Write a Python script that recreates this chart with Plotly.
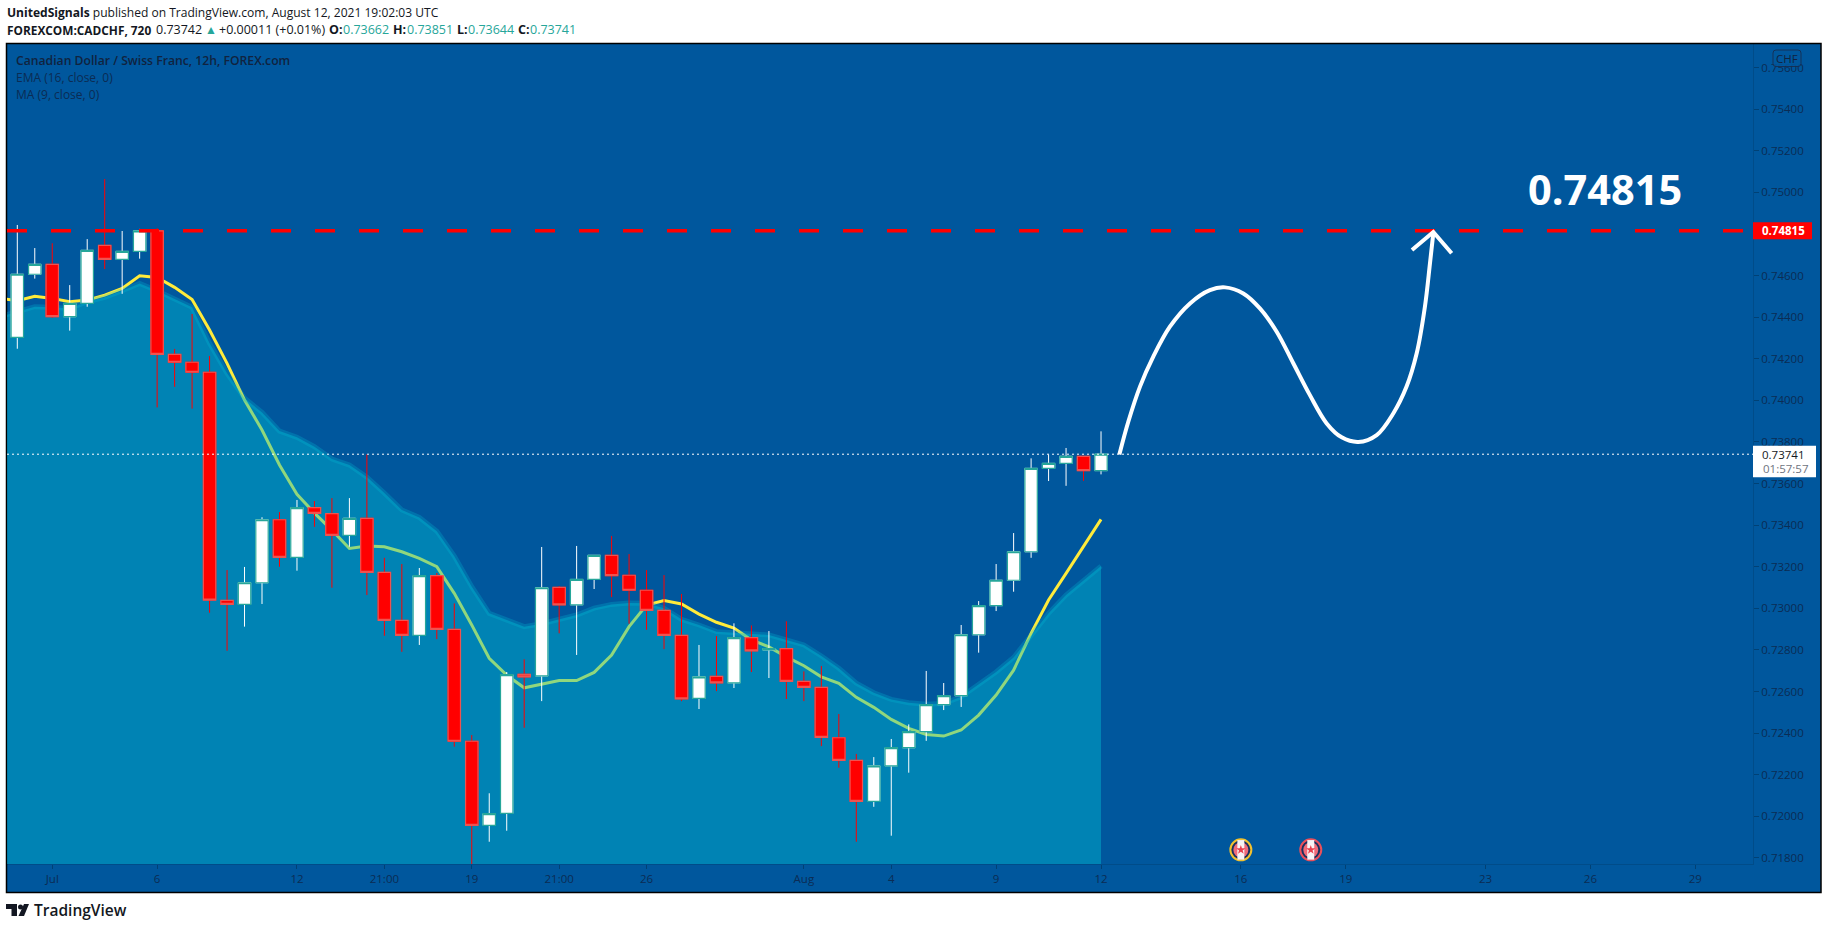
import plotly.graph_objects as go

# ---------- data ----------
bar_index = list(range(63))
opens = [.74303,.74606,.74654,.74402,.74466,.74745,.74678,.74716,.74815,.74221,.74183,.74135,.73038,.73019,.73123,.73426,.73245,.73484,.73455,.73351,.73433,
         .73173,.72942,.72870,.73157,.72899,.72361,.71957,.72014,.72683,.72675,.73101,.73017,.73139,.73255,.73159,.73087,.72990,.72870,.72567,.72673,
         .72642,.72859,.72800,.72806,.72649,.72620,.72378,.72269,.72072,.72243,.72330,.72407,.72537,.72580,.72873,.73013,.73135,.73272,.73673,.73697,.73731,.73662]
highs = [.74843,.74732,.74755,.74554,.74775,.75064,.74814,.74824,.74827,.74247,.74415,.74213,.73184,.73199,.73438,.73463,.73521,.73516,.73530,.73530,.73740,
         .73243,.73213,.73194,.73170,.73024,.72391,.72111,.72694,.72755,.73295,.73107,.73300,.73255,.73348,.73261,.73184,.73160,.73069,.72824,.72867,
         .72928,.72918,.72891,.72938,.72697,.72723,.72492,.72300,.72285,.72372,.72442,.72699,.72641,.72920,.73035,.73213,.73362,.73721,.73740,.73771,.73731,.73851]
lows = [.74248,.74585,.74397,.74335,.74450,.74631,.74512,.74681,.73966,.74065,.73960,.72979,.72796,.72912,.73021,.73200,.73181,.73392,.73099,.73296,.73064,
        .72868,.72791,.72824,.72852,.72335,.71771,.71878,.71931,.72426,.72554,.72880,.72776,.73093,.73054,.72926,.72897,.72804,.72554,.72516,.72602,
        .72617,.72694,.72665,.72564,.72554,.72338,.72234,.71878,.72046,.71907,.72210,.72363,.72511,.72526,.72787,.72987,.73080,.73243,.73612,.73589,.73613,.73644]
closes = [.74606,.74654,.74402,.74466,.74721,.74678,.74716,.74815,.74221,.74183,.74135,.73040,.73019,.73123,.73426,.73245,.73484,.73457,.73351,.73433,.73173,
          .72942,.72870,.73157,.72899,.72361,.71957,.72013,.72681,.72671,.73099,.73017,.73139,.73255,.73157,.73087,.72990,.72870,.72565,.72671,.72642,
          .72859,.72796,.72806,.72649,.72620,.72380,.72269,.72072,.72243,.72330,.72407,.72537,.72580,.72873,.73013,.73135,.73272,.73673,.73697,.73731,.73662,.73741]

line_index = list(range(-1, 63))
ema16 = [.74402,.74426,.74450,.74447,.74442,.74474,.74495,.74527,.74562,.74527,.74487,.74447,.74274,.74130,.74010,.73942,.73852,.73822,.73777,.73718,.73689,.73631,
         .73554,.73473,.73437,.73371,.73251,.73104,.72976,.72944,.72912,.72926,.72944,.72968,.73001,.73019,.73026,.73024,.73000,.72947,.72920,.72888,.72883,.72877,.72872,
         .72848,.72824,.72771,.72712,.72640,.72594,.72562,.72546,.72539,.72543,.72575,.72631,.72694,.72764,.72872,.72976,.73064,.73136,.73203]
ma9 = [.74490,.74479,.74500,.74490,.74474,.74482,.74506,.74538,.74599,.74591,.74543,.74485,.74338,.74178,.74001,.73857,.73689,.73548,.73458,.73376,.73288,.73300,.73296,
       .73272,.73240,.73200,.73072,.72920,.72760,.72679,.72618,.72636,.72653,.72653,.72692,.72775,.72912,.73016,.73037,.73021,.72972,.72933,.72905,.72848,.72815,.72767,
       .72724,.72671,.72640,.72572,.72524,.72466,.72423,.72394,.72386,.72415,.72487,.72583,.72703,.72880,.73040,.73168,.73296,.73428]

arrow_x = [63.05,63.56,64.23,64.99,65.94,67.09,68.23,69.09,70.14,71.09,72.05,73.00,73.95,74.91,75.77,76.72,77.77,78.72,79.48,80.06,80.53,80.82,81.01]
arrow_y = [.73740,.73897,.74066,.74210,.74354,.74466,.74530,.74543,.74514,.74442,.74330,.74178,.74025,.73889,.73822,.73800,.73833,.73937,.74066,.74226,.74450,.74659,.74803]
head_x = [79.79,81.01,82.06]
head_y = [.74723,.74809,.74707]

target_level = .74815
last_price = .73741

event_x = [70, 74]
event_y = [.71839, .71839]
event_rings = ["#f2c12e", "#e8505b"]

x_tick_vals = [2,8,16,21,26,31,36,45,50,56,62,70,76,84,90,96]
x_tick_text = ["Jul","6","12","21:00","19","21:00","26","Aug","4","9","12","16","19","23","26","29"]
y_tick_vals = [.718,.720,.722,.724,.726,.728,.730,.732,.734,.736,.738,.740,.742,.744,.746,.748,.750,.752,.754,.756]

# ---------- layout constants ----------
W, H = 1828, 929
L, R, T, B = 7, 1753, 44, 864
X_RANGE = [-0.589, 99.3]
Y_RANGE = [.71771, .75713]
BG = "#00579d"
AXIS_TXT = "#0b2c54"
FONT = "Open Sans"
def px(x): return (x - L) / (R - L)
def py(y): return (B - y) / (B - T)

fig = go.Figure()

# under the candles
fig.add_trace(go.Scatter(x=line_index, y=ma9, mode="lines", line=dict(color="#ffeb3b", width=3), name="MA 9", hoverinfo="skip"))
fig.add_trace(go.Scatter(x=line_index, y=ema16, mode="lines", fill="tozeroy", fillcolor="rgba(0,188,212,0.435)",
                         line=dict(color="rgba(0,188,212,0.28)", width=5), name="EMA 16", hoverinfo="skip"))

# wicks
fig.add_trace(go.Candlestick(x=bar_index, open=opens, high=highs, low=lows, close=closes, xaxis="x2", yaxis="y2",
    increasing=dict(line=dict(color="#ffffff", width=1), fillcolor="#ffffff"),
    decreasing=dict(line=dict(color="#ff0000", width=1), fillcolor="#ff0000"), whiskerwidth=0, hoverinfo="skip", name="wicks"))
# bodies
body_hi = [max(o, c) for o, c in zip(opens, closes)]
body_lo = [min(o, c) for o, c in zip(opens, closes)]
fig.add_trace(go.Candlestick(x=bar_index, open=opens, high=body_hi, low=body_lo, close=closes, xaxis="x2", yaxis="y2",
    increasing=dict(line=dict(color="#26a69a", width=1.2), fillcolor="#ffffff"),
    decreasing=dict(line=dict(color="#ef5350", width=1.2), fillcolor="#ff0000"), whiskerwidth=0, hoverinfo="skip", name="bodies"))

# level and price lines
fig.add_trace(go.Scatter(x=X_RANGE, y=[last_price, last_price], mode="lines", xaxis="x2", yaxis="y2",
                         line=dict(color="#ffffff", width=1, dash="2px,3px"), hoverinfo="skip"))
fig.add_trace(go.Scatter(x=X_RANGE, y=[target_level, target_level], mode="lines", xaxis="x2", yaxis="y2",
                         line=dict(color="#ff0000", width=3.5, dash="20px,24px"), hoverinfo="skip"))
# projected path
fig.add_trace(go.Scatter(x=arrow_x, y=arrow_y, mode="lines", xaxis="x2", yaxis="y2",
                         line=dict(color="#ffffff", width=4, shape="spline", smoothing=1.0), hoverinfo="skip"))
fig.add_trace(go.Scatter(x=head_x, y=head_y, mode="lines", xaxis="x2", yaxis="y2",
                         line=dict(color="#ffffff", width=4), hoverinfo="skip"))
# events
fig.add_trace(go.Scatter(x=event_x, y=event_y, mode="markers", xaxis="x2", yaxis="y2", hoverinfo="skip",
                         marker=dict(symbol="circle", size=21, color="#17305f", line=dict(color=event_rings, width=2))))
fig.add_trace(go.Scatter(x=event_x, y=event_y, mode="markers", xaxis="x2", yaxis="y2", hoverinfo="skip",
                         marker=dict(symbol="circle", size=15, color="#ef6b78", line=dict(width=0))))
fig.add_trace(go.Scatter(x=event_x, y=event_y, mode="markers", xaxis="x2", yaxis="y2", hoverinfo="skip",
                         marker=dict(symbol="line-ns", size=14, line=dict(color="#f7f3f5", width=7))))
fig.add_trace(go.Scatter(x=event_x, y=event_y, mode="markers", xaxis="x2", yaxis="y2", hoverinfo="skip",
                         marker=dict(symbol="star", size=7, color="#e8404f", line=dict(width=0))))

shapes = [
    dict(type="rect", xref="paper", yref="paper", layer="below", x0=px(6.5), x1=px(1821), y0=py(43.5), y1=py(892.5),
         fillcolor=BG, line=dict(color="#000000", width=1.5)),
    dict(type="rect", xref="paper", yref="y", layer="above", x0=1, x1=px(1812), ysizemode="pixel", yanchor=target_level,
         y0=-8.5, y1=8.5, fillcolor="#ff0000", line=dict(width=0)),
    dict(type="rect", xref="paper", yref="y", layer="above", x0=1, x1=px(1816), ysizemode="pixel", yanchor=last_price,
         y0=-23, y1=8.5, fillcolor="#ffffff", line=dict(width=0)),
    # CHF badge
    dict(type="path", xref="paper", yref="paper", layer="above",
         path=(f"M {px(1776)} {py(50)} L {px(1798)} {py(50)} Q {px(1801)} {py(50)} {px(1801)} {py(53)} "
               f"L {px(1801)} {py(63.5)} Q {px(1801)} {py(66.5)} {px(1798)} {py(66.5)} L {px(1776)} {py(66.5)} "
               f"Q {px(1773)} {py(66.5)} {px(1773)} {py(63.5)} L {px(1773)} {py(53)} Q {px(1773)} {py(50)} {px(1776)} {py(50)} Z"),
         fillcolor="rgba(0,87,157,0.85)", line=dict(color="rgba(25,40,70,0.8)", width=1)),
    # TradingView mark
    dict(type="path", xref="paper", yref="paper", layer="above",
         path=(f"M {px(6)} {py(904)} L {px(17)} {py(904)} L {px(17)} {py(916)} L {px(11.5)} {py(916)} "
               f"L {px(11.5)} {py(909)} L {px(6)} {py(909)} Z"), fillcolor="#131722", line=dict(width=0)),
    dict(type="circle", xref="paper", yref="paper", layer="above", x0=px(18), x1=px(23), y0=py(904.5), y1=py(909.5),
         fillcolor="#131722", line=dict(width=0)),
    dict(type="path", xref="paper", yref="paper", layer="above",
         path=f"M {px(24)} {py(904)} L {px(29)} {py(904)} L {px(24)} {py(916)} L {px(18.5)} {py(916)} Z",
         fillcolor="#131722", line=dict(width=0)),
]

def note(text, x, y, size=12, color="#131722", anchor="left", weight=None):
    f = dict(family=FONT, size=size, color=color)
    if weight: f["weight"] = weight
    return dict(text=text, xref="paper", yref="paper", x=px(x), y=py(y), xanchor=anchor, yanchor="middle",
                showarrow=False, font=f, borderpad=0)

TEAL = "#26a69a"
annotations = [
    note("<b>UnitedSignals</b> published on TradingView.com, August 12, 2021 19:02:03 UTC", 6, 13, 12.05),
    note("<b>FOREXCOM:CADCHF, 720</b>", 6, 30, 11.85),
    note("0.73742", 155, 30, 12.5),
    note("▲", 204, 30, 12, TEAL),
    note("+0.00011 (+0.01%)", 218, 30, 12.5),
    note("<b>O:</b>", 328.4, 30, 12.5), note("0.73662", 341.7, 30, 12.5, TEAL),
    note("<b>H:</b>", 392, 30, 12.5), note("0.73851", 405.7, 30, 12.5, TEAL),
    note("<b>L:</b>", 456, 30, 12.5), note("0.73644", 467, 30, 12.5, TEAL),
    note("<b>C:</b>", 517, 30, 12.5), note("0.73741", 529, 30, 12.5, TEAL),
    note("Canadian Dollar / Swiss Franc, 12h, FOREX.com", 15, 60.5, 12.2, "#10233f", weight=600),
    note("EMA (16, close, 0)", 15, 77.5, 12, "#0b2c54"),
    note("MA (9, close, 0)", 15, 94.5, 12, "#0b2c54"),
    note("<b>0.74815</b>", 1605, 189, 41.5, "#ffffff", "center"),
    note("<b>0.74815</b>", 1783, 231, 11.5, "#ffffff", "center"),
    note("0.73741", 1783, 454.5, 11.5, "#131722", "center"),
    note("01:57:57", 1786, 468, 11.5, "#6f7480", "center"),
    note("CHF", 1787, 58.5, 11.5, "#10233f", "center"),
    note("TradingView", 33, 910, 15.5, "#131722", weight=600),
]

axis_common = dict(showgrid=False, zeroline=False, showline=True, linecolor="rgba(0,0,0,0.12)", linewidth=1,
                   ticks="outside", tickcolor="rgba(0,0,0,0.25)", tickfont=dict(family=FONT, size=11.5, color=AXIS_TXT))

fig.update_layout(
    width=W, height=H, autosize=False, showlegend=False, margin=dict(l=L, r=W - R, t=T, b=H - B, pad=0),
    paper_bgcolor="#ffffff", plot_bgcolor=BG, boxmode="overlay", boxgap=0.29, boxgroupgap=0, hovermode=False,
    shapes=shapes, annotations=annotations,
    xaxis=dict(range=X_RANGE, tickmode="array", tickvals=x_tick_vals, ticktext=x_tick_text, ticklen=4,
               rangeslider=dict(visible=False), **axis_common),
    yaxis=dict(range=Y_RANGE, side="right", tickmode="array", tickvals=y_tick_vals, tickformat=".5f", ticklen=5, **axis_common),
    xaxis2=dict(range=X_RANGE, overlaying="x", visible=False, rangeslider=dict(visible=False)),
    yaxis2=dict(range=Y_RANGE, overlaying="y", visible=False),
)

fig.write_html("out.html", config=dict(displayModeBar=False),
               post_script="document.body.style.margin='0';document.documentElement.style.overflow='hidden';")
